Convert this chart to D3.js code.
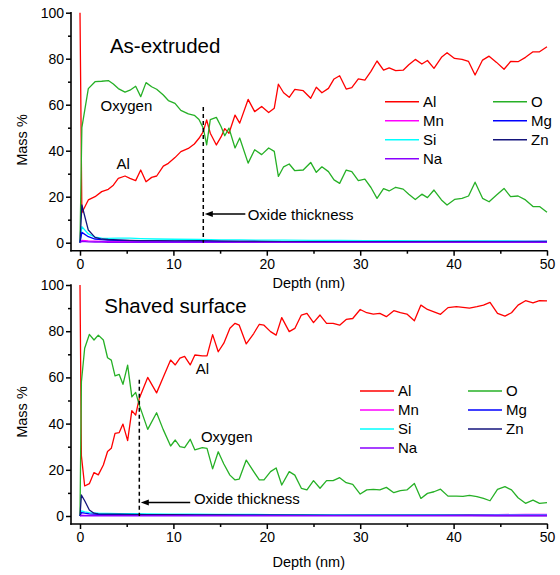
<!DOCTYPE html>
<html>
<head>
<meta charset="utf-8">
<script src="https://cdn.jsdelivr.net/npm/d3@7"></script>
<style>
  body { margin: 0; background: #fff; }
  svg { display: block; font-family: "Liberation Sans", Arial, sans-serif; }
</style>
</head>
<body>
<svg id="chart" width="560" height="575"></svg>
<script>
/* Depth profiles (mass %) — as-extruded vs. shaved surface */
const elements = ["Al", "O", "Mn", "Mg", "Si", "Zn", "Na"];
const colors = ["#ff0000", "#26b026", "#ff00ff", "#0000ff", "#00ffff", "#14147c", "#8a00ff"];
const xTicks = [0, 10, 20, 30, 40, 50];
const xMinor = [5, 15, 25, 35, 45];
const yTicks = [0, 20, 40, 60, 80, 100];
const yMinor = [10, 30, 50, 70, 90];

// As-extruded: Al and O
const depthA = [0, 0.2, 0.89, 1.61, 2.32, 3.03, 3.57, 4.1, 4.82, 5.35, 5.96, 6.5, 7.07, 7.67, 8.21, 8.92, 9.46, 10.17, 10.8, 11.6,
  12.24, 12.74, 13.2, 13.56, 13.95, 14.6, 15.1, 15.5, 15.95, 16.6, 17.1, 18.0, 18.7, 19.45, 20.2, 20.8, 21.24, 21.8, 22.4, 23.0,
  23.9, 24.7, 25.3, 25.9, 26.6, 27.2, 27.8, 28.5, 29.1, 29.8, 30.5, 31.15, 31.8, 32.5, 33.1, 33.8, 34.6, 35.2, 35.9, 36.6,
  37.2, 37.9, 38.7, 39.3, 40.1, 40.9, 41.6, 42.3, 43.1, 43.8, 44.6, 45.4, 46.1, 46.9, 47.7, 48.5, 49.2, 50];
const alA = [100, 13, 18.6, 20, 22.2, 23.2, 25, 28, 29, 28, 27, 31.6, 26.5, 28.4, 29, 33.3, 34.5, 37, 39.6, 41,
  42.9, 45.4, 48.3, 53.4, 47.6, 42.5, 46, 49.6, 47.6, 55.5, 52, 62.3, 57, 59.2, 56.6, 58.5, 68.9, 65.2, 63.2, 66.7,
  66.1, 62.8, 67.6, 65.2, 67.1, 71.2, 72.6, 66.8, 67.4, 71.2, 70.7, 74.5, 79, 75, 76, 74.8, 75, 77.4, 79.7, 77.7,
  79.2, 75.8, 80.6, 82.6, 80.1, 79.7, 78.8, 72.9, 79.4, 81.1, 78.4, 75.4, 78.8, 78.7, 80.6, 83, 83, 85.2];
const oA = [0, 50, 67, 70, 70.2, 70.5, 69, 67, 65.5, 66.3, 68, 63.5, 69.6, 67.8, 66.7, 64.2, 61.8, 60.6, 57.5, 56,
  55.4, 53.6, 49.8, 42.5, 53.5, 54.5, 50.5, 46.5, 49.8, 41.2, 45.5, 34.6, 40.4, 38.3, 41.2, 39.7, 28.8, 33, 34.2, 31.3,
  31.6, 34.9, 30.6, 33, 30.9, 27.3, 25.8, 31.6, 30.9, 27, 27.6, 24, 19.3, 23.5, 22.5, 24.1, 23.3, 21.1, 18.8, 21.1,
  19.6, 22.9, 18.6, 16.4, 18.8, 19.3, 20.3, 26.3, 19.3, 17.8, 20.7, 23.6, 20, 20.3, 18.6, 15.7, 15.7, 13.2];

// As-extruded: minor elements
const minorDepthA = [0, 0.2, 0.89, 1.61, 2.32, 3.03, 4.1, 5.35, 6.5, 8.21, 10.17, 12.74, 15.1, 17.1, 19.45, 21.8, 24.7,
  27.8, 30.5, 33.8, 37.2, 40.9, 44.6, 47.7, 50];
const mnA = [0, 1.0, 0.8, 0.7, 0.6, 0.6, 0.6, 0.5, 0.5, 0.5, 0.5, 0.5, 0.5, 0.5, 0.5, 0.5, 0.5, 0.6, 0.6, 0.6, 0.6, 0.7, 0.7, 0.7, 0.8];
const mgA = [0, 4.5, 2.6, 1.6, 1.3, 1.1, 1.0, 0.9, 0.8, 0.8, 0.7, 0.7, 0.6, 0.6, 0.5, 0.5, 0.5, 0.4, 0.4, 0.4, 0.4, 0.3, 0.3, 0.3, 0.3];
const siA = [0, 7.0, 3.8, 2.4, 2.0, 1.9, 2.0, 2.0, 1.8, 1.6, 1.5, 1.4, 1.2, 1.2, 1.1, 1.1, 1.0, 1.0, 0.9, 0.9, 0.8, 0.8, 0.8, 0.7, 0.7];
const znA = [0, 16.4, 5.5, 2.3, 1.6, 1.4, 1.2, 1.0, 0.9, 0.9, 0.8, 0.9, 0.7, 0.6, 0.6, 0.5, 0.5, 0.4, 0.4, 0.3, 0.3, 0.3, 0.2, 0.2, 0.2];
const naA = [0, 0.6, 0.4, 0.3, 0.3, 0.2, 0.2, 0.2, 0.2, 0.2, 0.2, 0.2, 0.1, 0.1, 0.1, 0.1, 0.1, 0.1, 0.1, 0.1, 0.1, 0.1, 0.1, 0.1, 0.1];

// Shaved surface: Al and O
const depthB = [0, 0.15, 0.5, 1.0, 1.5, 1.96, 2.5, 2.95, 3.35, 3.75, 4.2, 4.6, 5.1, 5.55, 5.96, 6.35, 7.25, 8.2, 8.9, 9.7,
  10.2, 10.7, 11.2, 11.8, 12.3, 13.1, 13.6, 14.2, 14.8, 15.4, 16.05, 16.6, 17.05, 17.8, 18.6, 19.2, 19.7, 20.4, 21.0, 21.6,
  22.4, 23.0, 23.7, 24.3, 25.0, 25.7, 26.4, 27.1, 27.8, 28.5, 29.2, 30.0, 30.7, 31.4, 32.1, 32.8, 33.6, 34.3, 35.0, 35.8,
  36.5, 37.2, 37.9, 38.6, 39.4, 40.3, 41.0, 41.7, 42.5, 43.2, 43.9, 44.7, 45.5, 46.2, 46.9, 47.7, 48.5, 49.2, 50];
const alB = [100, 26, 13, 14, 18.8, 17.8, 22.1, 27.9, 29.3, 35.8, 36.1, 39.8, 32.6, 45.6, 43.7, 51, 60, 53.3, 60, 67.5,
  65.4, 68.3, 69.1, 65.4, 69.7, 69.3, 69.3, 78.5, 71.1, 74.8, 81.3, 83.4, 82.6, 74.5, 79, 83, 82.6, 79.8, 78.3, 85.9,
  79.8, 81.2, 87, 87.7, 83.7, 87, 83.4, 83.4, 82.6, 85.1, 85.5, 89.4, 88, 87.4, 87.7, 86.3, 88.9, 88, 87.4, 84.5,
  91.3, 89.4, 88.4, 87.3, 90.2, 90.6, 90.3, 90, 90.6, 91.3, 92.5, 87.7, 86.5, 88, 91.3, 93.2, 92.3, 93.2, 93.1];
const oB = [0, 58, 72.6, 78.6, 76.2, 78.3, 76.2, 68.5, 67.5, 60.7, 61.3, 57, 65.3, 51.6, 53.5, 48, 37.5, 44.7, 37.5, 30.3,
  32.9, 30, 29.6, 33.2, 28.6, 29.6, 29.3, 20.4, 27.8, 22.5, 17.7, 15.6, 16, 24.2, 19.2, 15.6, 15.6, 19.2, 20.8, 13.4,
  19.2, 17.7, 12, 11.3, 15.3, 12, 15.3, 15.3, 16.6, 14.4, 13.7, 9.5, 11.3, 11.5, 11.3, 12.4, 10.1, 11, 11.3, 14.1,
  7.6, 9.8, 10.5, 11.6, 8.6, 8.6, 8.5, 8.9, 8.4, 7.6, 6.6, 11.5, 12.7, 11.3, 7.9, 5.5, 6.9, 5.5, 5.8];

// Shaved surface: minor elements
const minorDepthB = [0, 0.15, 0.5, 1.0, 1.5, 1.96, 2.95, 4.2, 5.55, 7.25, 9.7, 12.3, 14.8, 17.8, 20.4, 23.7, 27.1,
  30.7, 34.3, 37.9, 41.7, 44.7, 47.7, 50];
const mnB = [0, 0.4, 0.3, 0.3, 0.3, 0.3, 0.3, 0.3, 0.3, 0.3, 0.3, 0.3, 0.3, 0.3, 0.4, 0.4, 0.4, 0.5, 0.5, 0.5, 0.6, 0.6, 0.7, 0.7];
const mgB = [0, 1.5, 1.2, 0.9, 0.8, 0.7, 0.6, 0.6, 0.5, 0.5, 0.5, 0.4, 0.4, 0.4, 0.4, 0.3, 0.3, 0.3, 0.3, 0.3, 0.3, 0.3, 0.3, 0.3];
const siB = [0, 2.2, 1.8, 1.5, 1.3, 1.2, 1.1, 1.0, 1.0, 0.9, 0.8, 0.8, 0.7, 0.7, 0.6, 0.6, 0.5, 0.5, 0.5, 0.5, 0.4, 0.4, 0.4, 0.4];
const znB = [0, 9.1, 6.6, 2.6, 1.2, 0.9, 0.8, 0.8, 0.7, 0.6, 0.6, 0.5, 0.5, 0.4, 0.4, 0.4, 0.3, 0.3, 0.3, 0.3, 0.3, 0.2, 0.2, 0.2];
const naB = [0, 0.2, 0.1, 0.1, 0.1, 0.1, 0.1, 0.1, 0.1, 0.1, 0.1, 0.1, 0.1, 0.1, 0.1, 0.1, 0.1, 0.1, 0.1, 0.1, 0.1, 0.1, 0.1, 0.1];

// oxide thickness (nm) marked by the dashed line
const oxideDepth = [13.2, 6.35];

const svg = d3.select("#chart");

function drawPanel(p) {
  const x = d3.scaleLinear().domain([0, 50]).range([80, 547]);
  const y = d3.scaleLinear().domain([0, 100]).range([p.y0, p.y100]);
  const g = svg.append("g");
  const axisX = 71, axisY = p.y0 + 8;

  // axes (Origin style: offset axis lines, outward ticks)
  g.append("g").attr("transform", `translate(${axisX},0)`)
    .call(d3.axisLeft(y).tickValues(yTicks).tickSize(5).tickPadding(2));
  g.append("g").attr("transform", `translate(${axisX},0)`)
    .call(d3.axisLeft(y).tickValues(yMinor).tickSize(3).tickFormat(""));
  g.append("g").attr("transform", `translate(0,${axisY})`)
    .call(d3.axisBottom(x).tickValues(xTicks).tickSize(5).tickPadding(3));
  g.append("g").attr("transform", `translate(0,${axisY})`)
    .call(d3.axisBottom(x).tickValues(xMinor).tickSize(3).tickFormat(""));
  g.selectAll(".domain").remove();
  g.selectAll(".tick line").attr("stroke", "#000").attr("stroke-width", 1.5);
  g.selectAll(".tick text").attr("font-size", 14).attr("fill", "#000")
    .attr("font-family", "Liberation Sans, Arial, sans-serif");
  g.append("line").attr("x1", axisX).attr("x2", axisX).attr("y1", y(100) - 0.7).attr("y2", axisY + 0.8)
    .attr("stroke", "#000").attr("stroke-width", 1.6);
  g.append("line").attr("x1", axisX - 0.8).attr("x2", x(50) + 0.7).attr("y1", axisY).attr("y2", axisY)
    .attr("stroke", "#000").attr("stroke-width", 1.6);

  g.append("text").attr("transform", `translate(27,${p.ylabY}) rotate(-90)`)
    .attr("text-anchor", "middle").attr("font-size", 14.5).text("Mass %");
  g.append("text").attr("x", 272.5).attr("y", p.xlabY)
    .attr("font-size", 14.5).text("Depth (nm)");

  // series
  const line = d3.line().x(d => x(d[0])).y(d => y(d[1]));
  const order = [0, 1, 2, 4, 3, 5, 6];
  order.forEach(i => {
    const s = p.series[i];
    g.append("path").datum(d3.zip(s.depth, s.values))
      .attr("d", line).attr("fill", "none")
      .attr("stroke", colors[i]).attr("stroke-width", 1.3).attr("stroke-linejoin", "round");
  });

  // oxide thickness marker
  g.append("line").attr("x1", x(p.oxide)).attr("x2", x(p.oxide))
    .attr("y1", y(59)).attr("y2", y(0))
    .attr("stroke", "#000").attr("stroke-width", 1.5).attr("stroke-dasharray", "4,3");
  const ay = y(p.arrowV), tip = x(p.oxide) + 1.5;
  g.append("line").attr("x1", x(p.arrowTail)).attr("x2", tip + 6).attr("y1", ay).attr("y2", ay)
    .attr("stroke", "#000").attr("stroke-width", 1.5);
  g.append("path").attr("d", `M${tip},${ay}L${tip + 8},${ay - 3}L${tip + 8},${ay + 3}Z`).attr("fill", "#000");
  g.append("text").attr("x", x(p.oxTextD)).attr("y", y(p.oxTextV))
    .attr("font-size", 15).text("Oxide thickness");

  // labels
  g.append("text").attr("x", x(p.titleD)).attr("y", y(p.titleV))
    .attr("font-size", 20.5).text(p.title);
  g.append("text").attr("x", x(p.oxyD)).attr("y", y(p.oxyV)).attr("font-size", 15).text("Oxygen");
  g.append("text").attr("x", x(p.alD)).attr("y", y(p.alV)).attr("font-size", 15).text("Al");

  // legend
  elements.forEach((name, i) => {
    const col = i % 2, row = Math.floor(i / 2);
    const lx = p.legX[col], ly = p.legY + row * 19;
    g.append("line").attr("x1", lx).attr("x2", lx + 34).attr("y1", ly).attr("y2", ly)
      .attr("stroke", colors[i]).attr("stroke-width", 1.5);
    g.append("text").attr("x", lx + 38).attr("y", ly).attr("dy", "0.36em")
      .attr("font-size", 15).text(name);
  });
}

drawPanel({
  title: "As-extruded", y0: 242.7, y100: 12.7, ylabY: 140, xlabY: 287.5,
  titleD: 3.2, titleV: 82.3, oxyD: 2.2, oxyV: 57.3, alD: 3.9, alV: 31.9,
  oxide: oxideDepth[0], arrowV: 12.5, arrowTail: 17.7, oxTextD: 17.95, oxTextV: 9.9,
  legX: [385, 493], legY: 101.7,
  series: [
    { depth: depthA, values: alA }, { depth: depthA, values: oA },
    { depth: minorDepthA, values: mnA }, { depth: minorDepthA, values: mgA },
    { depth: minorDepthA, values: siA }, { depth: minorDepthA, values: znA },
    { depth: minorDepthA, values: naA }
  ]
});

drawPanel({
  title: "Shaved surface", y0: 516, y100: 285, ylabY: 412, xlabY: 567,
  titleD: 2.6, titleV: 88, oxyD: 12.95, oxyV: 32.2, alD: 12.4, alV: 61.3,
  oxide: oxideDepth[1], arrowV: 5.8, arrowTail: 11.8, oxTextD: 12.2, oxTextV: 5.1,
  legX: [360, 468], legY: 391,
  series: [
    { depth: depthB, values: alB }, { depth: depthB, values: oB },
    { depth: minorDepthB, values: mnB }, { depth: minorDepthB, values: mgB },
    { depth: minorDepthB, values: siB }, { depth: minorDepthB, values: znB },
    { depth: minorDepthB, values: naB }
  ]
});
</script>
</body>
</html>
